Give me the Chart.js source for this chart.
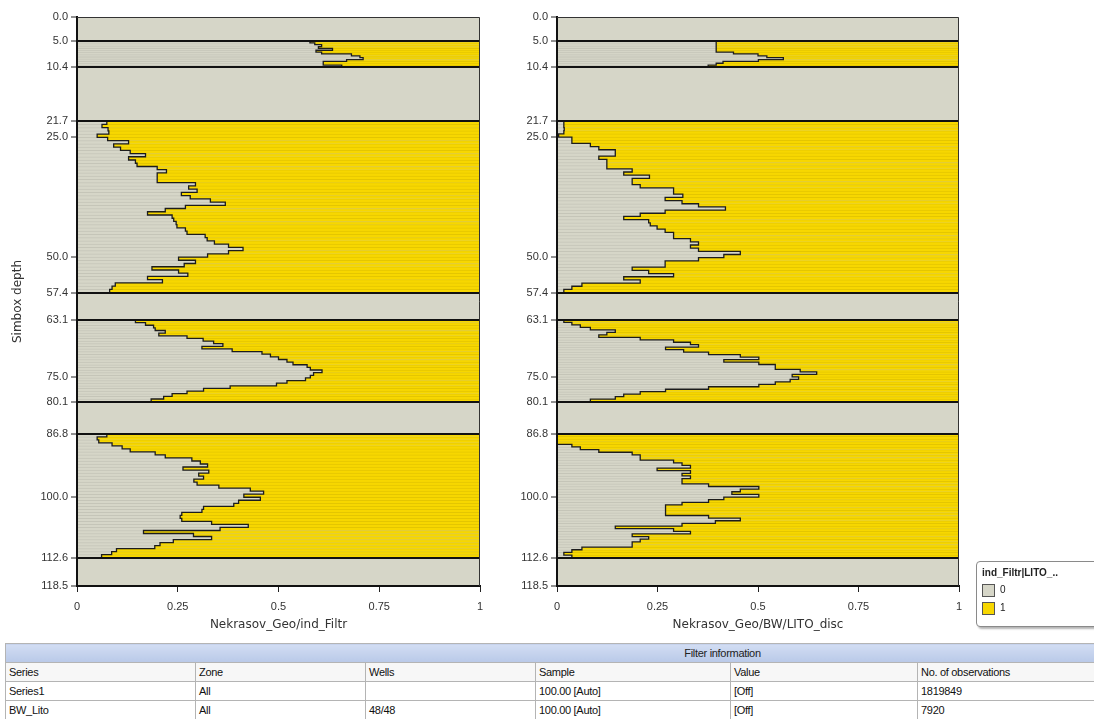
<!DOCTYPE html>
<html>
<head>
<meta charset="utf-8">
<script src="https://cdn.jsdelivr.net/npm/chart.js@4.4.1/dist/chart.umd.min.js"></script>
<style>
    body { margin: 0; background: #fff; width: 1094px; height: 719px; overflow: hidden; position: relative; font-family: "Liberation Sans", Arial, sans-serif; }
    #left { position: absolute; left: 0; top: 0; }
    #right { position: absolute; left: 490px; top: 0; }
    .legend { position: absolute; left: 976px; top: 561px; width: 140px; height: 64px; border: 1px solid #8a8a8a; border-radius: 4px; box-shadow: 2px 2px 2px #b5b5b5; background: #fff; font-size: 10px; color: #222; }
    .legend .title { position: absolute; left: 5px; top: 5px; font-weight: bold; }
    .legend .item { position: absolute; left: 5px; height: 12px; line-height: 12px; }
    .legend .box { display: inline-block; width: 11px; height: 11px; border: 1px solid #555; vertical-align: top; margin-right: 5px; }
    table { position: absolute; left: 5px; top: 643px; width: 1435px; border-collapse: collapse; font-size: 11px; color: #111; letter-spacing: -0.3px; }
    td { border: 1px solid #b4b4b4; height: 18px; padding: 0 3px; white-space: nowrap; }
    tr.head td { background: linear-gradient(#d2ddf3, #b9c9e8); text-align: center; color: #222; }
    tr.cols td { background: #f7f7f7; }
</style>
</head>
<body>
<canvas id="left" width="495" height="640"></canvas>
<canvas id="right" width="490" height="640"></canvas>

<div class="legend">
    <div class="title">ind_Filtr|LITO_..</div>
    <div class="item" style="top:22px"><span class="box" style="background:#d6d6c8"></span>0</div>
    <div class="item" style="top:40px"><span class="box" style="background:#f7d700"></span>1</div>
</div>

<table>
    <tr class="head"><td colspan="6">Filter information</td></tr>
    <tr class="cols"><td style="width:183px">Series</td><td style="width:163px">Zone</td><td style="width:163px">Wells</td><td style="width:188px">Sample</td><td style="width:180px">Value</td><td>No. of observations</td></tr>
    <tr><td>Series1</td><td>All</td><td></td><td>100.00 [Auto]</td><td>[Off]</td><td>1819849</td></tr>
    <tr><td>BW_Lito</td><td>All</td><td>48/48</td><td>100.00 [Auto]</td><td>[Off]</td><td>7920</td></tr>
</table>

<script>
// Тики глубины и границы зон
const yTicks = [0, 5.0, 10.4, 21.7, 25.0, 50.0, 57.4, 63.1, 75.0, 80.1, 86.8, 100.0, 112.6, 118.5];
const zoneTops = [5.0, 21.7, 63.1, 86.8];
const zoneBottoms = [10.4, 57.4, 80.1, 112.6];

// Доля "0" по слоям, Nekrasov_Geo/ind_Filtr
const filtrZone1 = [0.578, 0.59, 0.607, 0.599, 0.634, 0.593, 0.607, 0.681, 0.702, 0.71, 0.669, 0.611, 0.611, 0.657];
const filtrZone2 = [0.074, 0.062, 0.077, 0.079, 0.05, 0.076, 0.128, 0.091, 0.108, 0.132, 0.17, 0.128, 0.145, 0.149, 0.199, 0.222, 0.199, 0.199, 0.199, 0.294, 0.277, 0.298, 0.259, 0.281, 0.331, 0.368, 0.269, 0.219, 0.175, 0.236, 0.24, 0.246, 0.248, 0.269, 0.273, 0.318, 0.323, 0.341, 0.376, 0.412, 0.376, 0.324, 0.252, 0.294, 0.266, 0.186, 0.252, 0.275, 0.175, 0.212, 0.095, 0.087, 0.081];
const filtrZone3 = [0.145, 0.17, 0.19, 0.194, 0.219, 0.203, 0.273, 0.313, 0.339, 0.362, 0.31, 0.385, 0.459, 0.48, 0.5, 0.521, 0.536, 0.571, 0.579, 0.608, 0.587, 0.579, 0.567, 0.521, 0.495, 0.38, 0.314, 0.273, 0.236, 0.215, 0.184];
const filtrZone4 = [0.074, 0.05, 0.054, 0.087, 0.112, 0.132, 0.194, 0.219, 0.285, 0.306, 0.324, 0.263, 0.327, 0.302, 0.314, 0.29, 0.298, 0.352, 0.43, 0.463, 0.414, 0.455, 0.401, 0.389, 0.314, 0.31, 0.26, 0.256, 0.26, 0.334, 0.425, 0.355, 0.165, 0.289, 0.334, 0.239, 0.206, 0.193, 0.098, 0.086, 0.061];

// Доля "0" по слоям, Nekrasov_Geo/BW/LITO_disc
const litoZone1 = [0.396, 0.396, 0.396, 0.396, 0.396, 0.396, 0.439, 0.5, 0.522, 0.563, 0.501, 0.413, 0.396, 0.376];
const litoZone2 = [0.017, 0.017, 0.018, 0.017, 0.004, 0.037, 0.037, 0.083, 0.104, 0.145, 0.145, 0.104, 0.124, 0.124, 0.124, 0.187, 0.166, 0.23, 0.187, 0.187, 0.207, 0.29, 0.29, 0.313, 0.269, 0.311, 0.352, 0.419, 0.269, 0.207, 0.166, 0.228, 0.232, 0.249, 0.269, 0.29, 0.29, 0.332, 0.352, 0.332, 0.352, 0.456, 0.415, 0.352, 0.269, 0.269, 0.187, 0.228, 0.29, 0.166, 0.207, 0.062, 0.037, 0.017];
const litoZone3 = [0.017, 0.037, 0.058, 0.083, 0.145, 0.124, 0.104, 0.207, 0.29, 0.332, 0.352, 0.27, 0.315, 0.377, 0.456, 0.502, 0.415, 0.502, 0.543, 0.543, 0.605, 0.646, 0.585, 0.601, 0.58, 0.543, 0.502, 0.377, 0.27, 0.207, 0.166, 0.145, 0.083];
const litoZone4 = [0, 0, 0, 0, 0.037, 0.058, 0.104, 0.187, 0.207, 0.207, 0.29, 0.311, 0.332, 0.249, 0.332, 0.311, 0.332, 0.311, 0.311, 0.377, 0.502, 0.456, 0.435, 0.502, 0.415, 0.377, 0.311, 0.27, 0.27, 0.27, 0.27, 0.377, 0.456, 0.394, 0.311, 0.145, 0.29, 0.332, 0.187, 0.228, 0.207, 0.187, 0.187, 0.062, 0.037, 0.017, 0.037];

const GRAY = '#d6d6c8';
const YELLOW = '#f7d700';

// Серый фон области графика (зоны без данных) и тонкая рамка сверху/справа
const backPlugin = {
    id: 'back',
    beforeDraw(chart) {
        const a = chart.chartArea;
        chart.ctx.save();
        chart.ctx.fillStyle = GRAY;
        chart.ctx.fillRect(a.left, a.top, a.right - a.left, a.bottom - a.top);
        chart.ctx.restore();
    },
    afterDraw(chart) {
        const a = chart.chartArea;
        const ctx = chart.ctx;
        ctx.save();
        ctx.strokeStyle = '#333';
        ctx.lineWidth = 1;
        ctx.beginPath();
        ctx.moveTo(a.left, a.top + 0.5);
        ctx.lineTo(a.right - 0.5, a.top + 0.5);
        ctx.lineTo(a.right - 0.5, a.bottom);
        ctx.stroke();
        ctx.restore();
    }
};

function buildDatasets(zones) {
    const sets = [];
    zones.forEach(function(values, z) {
        const top = zoneTops[z];
        const bottom = zoneBottoms[z];
        const h = (bottom - top) / values.length;
        const bar = {
            type: 'bar', stack: 'p', barThickness: 'flex', categoryPercentage: 1, barPercentage: 1,
            borderSkipped: false, borderWidth: {top: 1, bottom: 0, left: 0, right: 0}, order: 1
        };
        sets.push(Object.assign({}, bar, {
            label: '0',
            data: values.map((v, i) => ({x: v, y: top + h * (i + 0.5)})),
            backgroundColor: GRAY, borderColor: '#c5c5b8',
            hoverBackgroundColor: GRAY, hoverBorderColor: '#c5c5b8'
        }));
        sets.push(Object.assign({}, bar, {
            label: '1',
            data: values.map((v, i) => ({x: 1 - v, y: top + h * (i + 0.5)})),
            backgroundColor: YELLOW, borderColor: '#e4c600',
            hoverBackgroundColor: YELLOW, hoverBorderColor: '#e4c600'
        }));
        // ступенчатый контур границы 0/1
        const outline = values.map((v, i) => ({x: v, y: top + h * i}));
        outline.push({x: values[values.length - 1], y: bottom});
        sets.push({
            type: 'line', label: 'edge', data: outline, xAxisID: 'x2', stepped: 'after',
            borderColor: '#1c1c1c', backgroundColor: '#1c1c1c', borderWidth: 1.3,
            pointRadius: 0, pointHoverRadius: 0, fill: false, order: 0
        });
    });
    return sets;
}

function makeChart(id, zones, xTitle, yWidth, padRight, showYTitle) {
    const ctx = document.getElementById(id);
    return new Chart(ctx, {
        type: 'bar',
        data: {datasets: buildDatasets(zones)},
        options: {
            responsive: false,
            animation: false,
            events: [],
            indexAxis: 'y',
            layout: {padding: {top: 17, right: padRight, bottom: 4, left: 0}},
            plugins: {legend: {display: false}, tooltip: {enabled: false}},
            scales: {
                x: {
                    type: 'linear', stacked: true, min: 0, max: 1,
                    ticks: {stepSize: 0.25, color: '#333', font: {family: 'Liberation Sans', size: 11}, padding: 8,
                        callback: v => String(v)},
                    grid: {drawOnChartArea: false, tickLength: 6, tickColor: '#222'},
                    border: {color: '#111', width: 2, z: 2},
                    title: {display: true, text: xTitle, color: '#333', font: {family: 'DejaVu Sans', size: 12}, padding: {top: 4, bottom: 4}},
                    afterFit: s => { s.height = 50; }
                },
                x2: {type: 'linear', display: false, min: 0, max: 1},
                y: {
                    type: 'linear', reverse: true, min: 0, max: 118.5, offset: false,
                    afterBuildTicks: s => { s.ticks = yTicks.map(v => ({value: v})); },
                    afterFit: s => { s.width = yWidth; },
                    ticks: {autoSkip: false, color: '#333', font: {family: 'Liberation Sans', size: 11}, padding: 3,
                        callback: v => Number(v).toFixed(1)},
                    grid: {
                        offset: false, z: 1, tickLength: 6, tickColor: '#222', tickWidth: 1,
                        color: c => (c.tick && zoneTops.concat(zoneBottoms).includes(c.tick.value)) ? '#111' : 'rgba(0,0,0,0)',
                        lineWidth: 2
                    },
                    border: {color: '#111', width: 2, z: 2},
                    title: {display: showYTitle, text: 'Simbox depth', color: '#333', font: {family: 'DejaVu Sans', size: 12}, padding: {top: 11, bottom: 0}}
                }
            }
        },
        plugins: [backPlugin]
    });
}

makeChart('left', [filtrZone1, filtrZone2, filtrZone3, filtrZone4], 'Nekrasov_Geo/ind_Filtr', 77, 15, true);
makeChart('right', [litoZone1, litoZone2, litoZone3, litoZone4], 'Nekrasov_Geo/BW/LITO_disc', 67, 21, false);
</script>
</body>
</html>
